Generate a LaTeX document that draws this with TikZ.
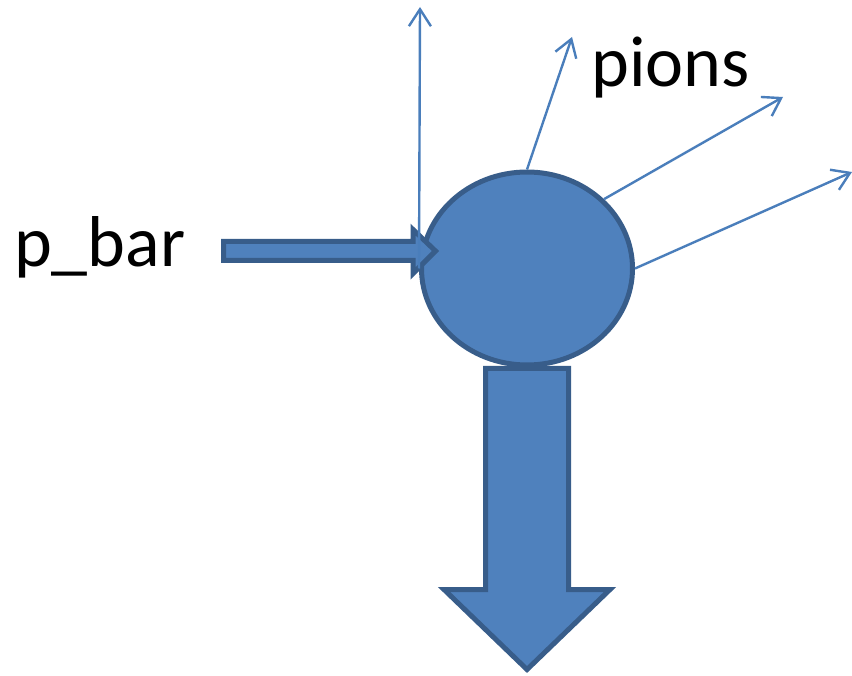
\documentclass[tikz,border=0pt]{standalone}
\usepackage{fontspec}
\setmainfont{Carlito}
\usetikzlibrary{shapes.geometric,arrows.meta}
\definecolor{blobfill}{HTML}{4F81BD}
\definecolor{blobline}{HTML}{385D8A}
\definecolor{pionline}{HTML}{4A7EBB}
\tikzset{
  blockshape/.style={fill=blobfill, draw=blobline, line width=5pt, line join=miter},
  pionray/.style={draw=pionline, line width=2.4pt,
    -{Straight Barb[length=17pt, width=22pt, line width=2.4pt]}},
  bigtext/.style={font=\fontsize{72}{86}\selectfont, inner sep=0, text=black}
}
\begin{document}
\begin{tikzpicture}[x=1pt, y=-1pt]
  \useasboundingbox (0,0) rectangle (852,676);

  % collision blob
  \node[ellipse, blockshape, minimum width=211pt, minimum height=193pt, inner sep=0]
    (blob) at (527,268.5) {};

  % labels
  \node[bigtext, anchor=base west] (pbar) at (14,267) {p\_bar};
  \node[bigtext, anchor=base west] (pions) at (591,87) {pions};

  % incoming antiproton beam
  \path[blockshape]
    (223.5,241.5) -- (413,241.5) -- (413,229.5) -- (435.5,251) -- (413,273.5)
    -- (413,260.5) -- (223.5,260.5) -- cycle;

  % outgoing pion tracks
  \coordinate (t0) at (420,7);
  \coordinate (t1) at (572,37);
  \coordinate (t2) at (783,97);
  \coordinate (t3) at (852,172);
  \draw[pionray] (blob.west) -- (t0);
  \draw[pionray] (blob.north) -- (t1);
  \draw[pionray] (blob.42) -- (t2);
  \draw[pionray] (blob.east) -- (t3);

  % downward product arrow
  \path[blockshape]
    (485.5,368.5) -- (568.5,368.5) -- (568.5,589.5) -- (610,589.5) -- (527,669.5)
    -- (444,589.5) -- (485.5,589.5) -- cycle;
\end{tikzpicture}
\end{document}
